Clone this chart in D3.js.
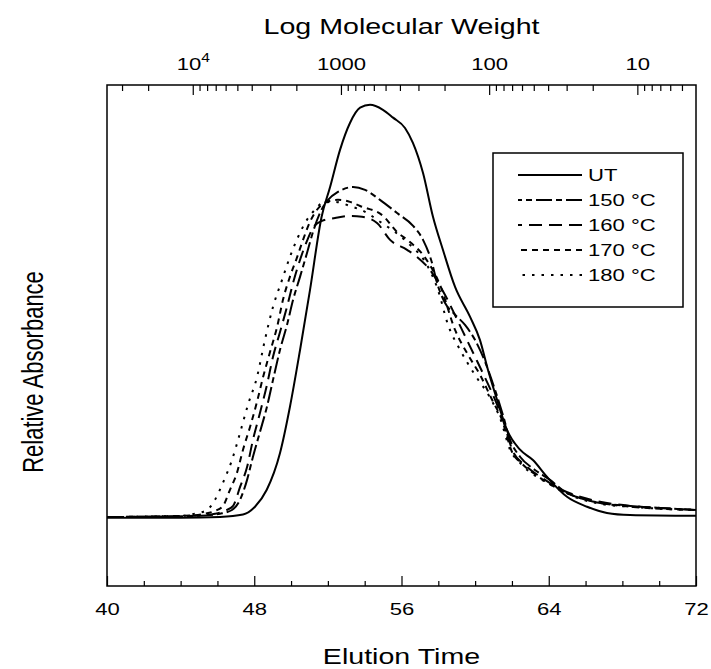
<!DOCTYPE html>
<html>
<head>
    <meta charset="utf-8" />
    <title>Relative absorbance vs elution time</title>
    <style>
        body { margin: 0; background: #fff; }
        svg text { font-family: Arial, "Liberation Sans", Helvetica, sans-serif; fill: #000; }
    </style>
    <script type="text/javascript" src="https://cdn.jsdelivr.net/npm/d3@7/dist/d3.min.js"></script>
</head>
<body>
    <div id="svg"></div>

    <script type="text/javascript">
        // elution time (min) and relative absorbance
        var utTime = [40, 44, 46.14, 47.39, 48.04, 48.68, 49.40, 49.94, 50.49, 51.03, 51.66, 52.12, 52.66, 53.20, 53.75, 54.29, 54.99, 55.54, 56.19, 56.62, 57.17, 57.71, 58.25, 58.91, 59.72, 60.26, 60.70, 61.19, 61.73, 62.44, 63.14, 63.91, 64.99, 66.08, 67.16, 68.41, 72];
        var utAbs  = [0, 0, 0.002, 0.008, 0.027, 0.068, 0.157, 0.269, 0.407, 0.552, 0.729, 0.801, 0.891, 0.956, 0.993, 1.0, 0.988, 0.969, 0.944, 0.908, 0.835, 0.729, 0.649, 0.559, 0.487, 0.431, 0.358, 0.286, 0.213, 0.165, 0.140, 0.099, 0.051, 0.027, 0.012, 0.007, 0.005];

        var t150Time = [40, 45.05, 46.14, 46.79, 47.23, 47.61, 47.93, 48.31, 48.69, 49.02, 49.40, 49.78, 50.11, 50.49, 50.87, 51.19, 51.57, 52.01, 52.55, 53.37, 54.02, 54.83, 55.76, 56.63, 57.17, 57.66, 57.93, 58.36, 58.91, 59.45, 59.99, 60.54, 61.08, 61.51, 61.90, 62.44, 63.25, 64.07, 64.88, 65.70, 66.79, 68.42, 70.05, 72];
        var t150Abs  = [0.002, 0.005, 0.010, 0.019, 0.044, 0.092, 0.148, 0.208, 0.269, 0.334, 0.407, 0.467, 0.528, 0.584, 0.642, 0.692, 0.738, 0.770, 0.789, 0.801, 0.794, 0.770, 0.738, 0.707, 0.673, 0.617, 0.569, 0.521, 0.492, 0.467, 0.431, 0.378, 0.310, 0.249, 0.189, 0.148, 0.116, 0.092, 0.063, 0.048, 0.036, 0.029, 0.024, 0.019];

        var t160Time = [40, 44.78, 45.87, 46.41, 46.85, 47.23, 47.61, 47.93, 48.31, 48.69, 49.02, 49.40, 49.78, 50.11, 50.49, 50.87, 51.19, 51.68, 52.39, 53.20, 53.85, 54.67, 55.38, 56.30, 56.84, 57.55, 58.36, 59.29, 59.94, 60.54, 61.08, 61.51, 62.06, 62.71, 63.80, 64.61, 65.70, 66.79, 68.42, 70.05, 72];
        var t160Abs  = [0.002, 0.005, 0.010, 0.017, 0.029, 0.075, 0.123, 0.189, 0.254, 0.322, 0.390, 0.450, 0.511, 0.569, 0.625, 0.671, 0.702, 0.719, 0.726, 0.731, 0.729, 0.714, 0.673, 0.649, 0.632, 0.600, 0.540, 0.455, 0.395, 0.339, 0.286, 0.237, 0.160, 0.128, 0.092, 0.070, 0.051, 0.039, 0.029, 0.024, 0.019];

        var t170Time = [40, 44.24, 45.32, 45.87, 46.30, 46.68, 47.06, 47.39, 47.77, 48.15, 48.48, 48.86, 49.24, 49.56, 49.94, 50.32, 50.65, 51.03, 51.41, 51.84, 52.55, 53.20, 53.75, 55.00, 55.76, 56.46, 57.28, 58.09, 58.91, 59.61, 60.27, 60.92, 61.46, 62.00, 62.55, 63.53, 64.61, 65.70, 66.79, 68.42, 70.05, 72];
        var t170Abs  = [0.002, 0.005, 0.010, 0.017, 0.029, 0.068, 0.109, 0.165, 0.220, 0.281, 0.341, 0.402, 0.462, 0.528, 0.584, 0.630, 0.673, 0.717, 0.746, 0.763, 0.770, 0.765, 0.755, 0.731, 0.692, 0.668, 0.630, 0.564, 0.455, 0.395, 0.346, 0.286, 0.237, 0.160, 0.131, 0.097, 0.068, 0.048, 0.036, 0.027, 0.022, 0.019];

        var t180Time = [40, 43.97, 44.78, 45.43, 45.87, 46.30, 46.79, 47.23, 47.66, 48.15, 48.58, 49.02, 49.51, 49.94, 50.38, 50.87, 51.30, 51.74, 52.39, 53.20, 54.02, 54.83, 55.65, 56.46, 57.28, 57.98, 58.53, 59.18, 59.99, 60.81, 61.35, 61.90, 62.44, 63.36, 63.91, 64.61, 65.70, 66.79, 68.42, 70.05, 72];
        var t180Abs  = [0.002, 0.005, 0.010, 0.019, 0.044, 0.085, 0.140, 0.206, 0.274, 0.341, 0.431, 0.511, 0.576, 0.632, 0.680, 0.722, 0.746, 0.763, 0.765, 0.755, 0.741, 0.717, 0.692, 0.661, 0.620, 0.552, 0.467, 0.407, 0.346, 0.291, 0.242, 0.165, 0.133, 0.099, 0.085, 0.068, 0.046, 0.034, 0.027, 0.022, 0.019];

        var seriesNames = ['UT', '150 \u00B0C', '160 \u00B0C', '170 \u00B0C', '180 \u00B0C'];

        // axis ticks
        var timeMajor = [40, 48, 56, 64, 72];
        var timeMinor = [42, 44, 46, 50, 52, 54, 58, 60, 62, 66, 68, 70];
        var mwMajor = [10000, 1000, 100, 10];
        var mwLabels = ['10^4', '1000', '100', '10'];

        var width = 711,
            height = 669,
            plotLeft = 107,
            plotRight = 696,
            plotTop = 85,
            plotBottom = 586,
            stretch = 1.3;   // the original figure is widened horizontally

        var dashes = {
            'UT': null,
            '150 \u00B0C': '16,4,6,4',
            '160 \u00B0C': '13,7',
            '170 \u00B0C': '6,5',
            '180 \u00B0C': '2.5,7'
        };

        var series = [
            { name: seriesNames[0], time: utTime, abs: utAbs },
            { name: seriesNames[1], time: t150Time, abs: t150Abs },
            { name: seriesNames[2], time: t160Time, abs: t160Abs },
            { name: seriesNames[3], time: t170Time, abs: t170Abs },
            { name: seriesNames[4], time: t180Time, abs: t180Abs }
        ];

        var svg = d3.select('#svg')
            .append('svg')
            .attr('width', width)
            .attr('height', height);

        var xScale = d3.scaleLinear()
            .domain([40, 72])
            .range([plotLeft, plotRight]);

        var yScale = d3.scaleLinear()
            .domain([-0.165, 1.048])
            .range([plotBottom, plotTop]);

        var mwScale = d3.scaleLog()
            .domain([37900, 4.02])
            .range([plotLeft, plotRight]);

        var mwMinor = [];
        [1, 10, 100, 1000, 10000].forEach(function(dec) {
            for (var m = 2; m <= 9; m++) {
                var v = dec * m;
                if (v < 37900 && v > 4.02) mwMinor.push(v);
            }
        });

        function styleAxis(g) {
            g.select('.domain').remove();
            g.selectAll('line').attr('stroke', '#000').attr('stroke-width', 1.2);
            g.selectAll('text')
                .attr('font-size', 17)
                .attr('font-family', 'Arial, "Liberation Sans", Helvetica, sans-serif')
                .attr('fill', '#000')
                .attr('transform', 'scale(' + stretch + ',1)');
        }

        // bottom axis
        svg.append('g')
            .attr('transform', 'translate(0,' + plotBottom + ')')
            .call(d3.axisBottom(xScale).tickValues(timeMinor).tickSize(-5).tickSizeOuter(0).tickFormat(''))
            .call(styleAxis);
        svg.append('g')
            .attr('transform', 'translate(0,' + plotBottom + ')')
            .call(d3.axisBottom(xScale).tickValues(timeMajor).tickSize(-10).tickSizeOuter(0).tickPadding(17))
            .call(styleAxis);

        // top axis (molecular weight)
        svg.append('g')
            .attr('transform', 'translate(0,' + plotTop + ')')
            .call(d3.axisTop(mwScale).tickValues(mwMinor).tickSize(-6).tickSizeOuter(0).tickFormat(''))
            .call(styleAxis);
        var gTop = svg.append('g')
            .attr('transform', 'translate(0,' + plotTop + ')')
            .call(d3.axisTop(mwScale).tickValues(mwMajor).tickSize(-10).tickSizeOuter(0).tickPadding(15)
                .tickFormat(function(d, i) { return mwLabels[i]; }))
            .call(styleAxis);

        gTop.selectAll('text').each(function(d, i) {
            var parts = mwLabels[i].split('^');
            if (parts.length == 2) {
                var t = d3.select(this).text('');
                t.append('tspan').text(parts[0]);
                t.append('tspan').attr('font-size', 12).attr('dy', -8).text(parts[1]);
            }
        });

        // frame
        svg.append('rect')
            .attr('x', plotLeft)
            .attr('y', plotTop)
            .attr('width', plotRight - plotLeft)
            .attr('height', plotBottom - plotTop)
            .attr('fill', 'none')
            .attr('stroke', '#000')
            .attr('stroke-width', 1.5);

        // curves
        var line = d3.line()
            .x(d => xScale(d[0]))
            .y(d => yScale(d[1]))
            .curve(d3.curveMonotoneX);

        svg.selectAll('.curve')
            .data(series)
            .enter()
            .append('path')
            .attr('class', 'curve')
            .attr('d', s => line(s.time.map((t, i) => [t, s.abs[i]])))
            .attr('fill', 'none')
            .attr('stroke', '#000')
            .attr('stroke-width', 2)
            .attr('stroke-dasharray', s => dashes[s.name]);

        // legend
        var legend = svg.append('g');
        legend.append('rect')
            .attr('x', 493)
            .attr('y', 153)
            .attr('width', 190)
            .attr('height', 154)
            .attr('fill', '#fff')
            .attr('stroke', '#000')
            .attr('stroke-width', 1.5);

        var rows = legend.selectAll('.row')
            .data(series)
            .enter()
            .append('g')
            .attr('transform', (s, i) => 'translate(0,' + (175 + i * 25) + ')');

        rows.append('path')
            .attr('d', 'M582,0L518,0')
            .attr('stroke', '#000')
            .attr('stroke-width', 2)
            .attr('stroke-dasharray', s => dashes[s.name]);

        rows.append('text')
            .attr('transform', 'translate(588,6) scale(' + stretch + ',1)')
            .attr('font-size', 17)
            .text(s => s.name);

        // axis titles
        svg.append('text')
            .attr('transform', 'translate(' + ((plotLeft + plotRight) / 2) + ',34) scale(' + stretch + ',1)')
            .attr('text-anchor', 'middle')
            .attr('font-size', 22)
            .text('Log Molecular Weight');

        svg.append('text')
            .attr('transform', 'translate(' + ((plotLeft + plotRight) / 2) + ',664) scale(' + stretch + ',1)')
            .attr('text-anchor', 'middle')
            .attr('font-size', 22)
            .text('Elution Time');

        svg.append('text')
            .attr('transform', 'translate(43,372) scale(' + stretch + ',1) rotate(-90)')
            .attr('text-anchor', 'middle')
            .attr('font-size', 22)
            .text('Relative Absorbance');
    </script>
</body>
</html>
